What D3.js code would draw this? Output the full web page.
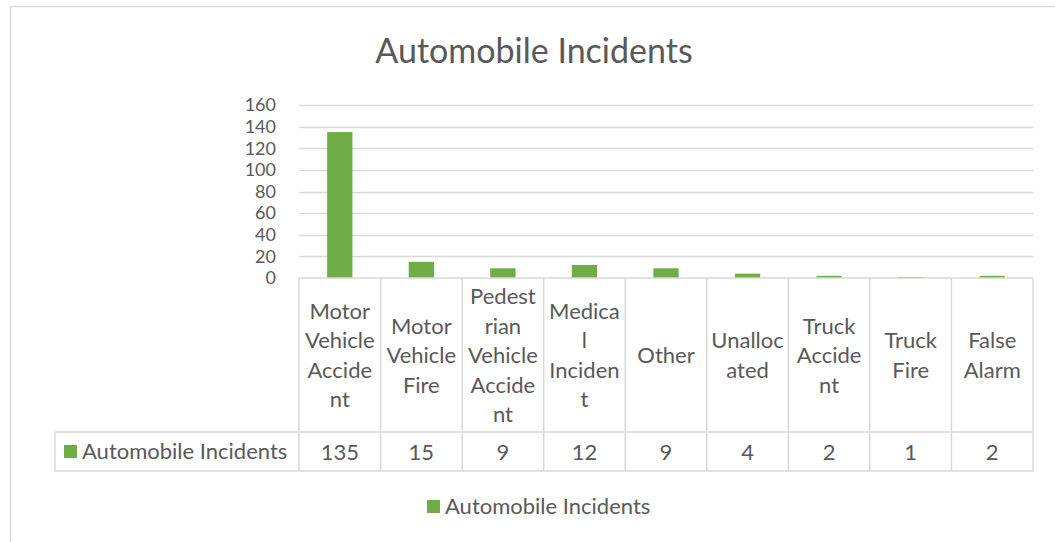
<!DOCTYPE html>
<html>
<head>
<meta charset="utf-8">
<script src="https://cdn.jsdelivr.net/npm/d3@7"></script>
<style>
  body { margin: 0; background: #fff; }
  svg { display: block; }
  text { font-family: Lato, "Open Sans", sans-serif; fill: #595959; }
</style>
</head>
<body>
<svg width="1055" height="542"></svg>
<script>
// chart data
var seriesName = "Automobile Incidents";
var categories = ["Motor Vehicle Accident", "Motor Vehicle Fire", "Pedestrian Vehicle Accident",
  "Medical Incident", "Other", "Unallocated", "Truck Accident", "Truck Fire", "False Alarm"];
// how Excel wrapped the names in the table cells
var categoryLines = [
  ["Motor", "Vehicle", "Accide", "nt"],
  ["Motor", "Vehicle", "Fire"],
  ["Pedest", "rian", "Vehicle", "Accide", "nt"],
  ["Medica", "l", "Inciden", "t"],
  ["Other"],
  ["Unalloc", "ated"],
  ["Truck", "Accide", "nt"],
  ["Truck", "Fire"],
  ["False", "Alarm"]
];
var values = [135, 15, 9, 12, 9, 4, 2, 1, 2];
var yTicks = [0, 20, 40, 60, 80, 100, 120, 140, 160];

var svg = d3.select("svg");
var grey = "#d9d9d9", green = "#70ad47";
var fs = "22px";

// outer chart border (runs off the right and bottom)
svg.append("rect")
    .attr("x", 10.5).attr("y", 6.5)
    .attr("width", 1100).attr("height", 600)
    .attr("fill", "none").attr("stroke", grey).attr("stroke-width", 1.5);

svg.append("text")
    .attr("x", 534).attr("y", 63)
    .attr("text-anchor", "middle")
    .style("font-size", "34px")
    .text(seriesName);

var x = d3.scaleBand().domain(categories).range([299, 1033]).padding(0);
var y = d3.scaleLinear().domain([0, 160]).range([278, 105]);

// gridlines
svg.append("g").selectAll("line")
    .data(yTicks.filter(function(d) { return d > 0; }))
    .enter().append("line")
    .attr("x1", 299).attr("x2", 1033)
    .attr("y1", function(d) { return Math.round(y(d)) + 0.5; })
    .attr("y2", function(d) { return Math.round(y(d)) + 0.5; })
    .attr("stroke", grey).attr("stroke-width", 1.5);

// y axis labels
var yAxis = svg.append("g")
    .attr("transform", "translate(299,0)")
    .call(d3.axisLeft(y).tickValues(yTicks).tickSize(0).tickPadding(23));
yAxis.select(".domain").remove();
yAxis.selectAll("text")
    .style("font-size", "18px")
    .style("font-family", "Lato, sans-serif")
    .attr("fill", "#595959");

// bars
var barW = x.bandwidth() * 0.31;
svg.append("g").selectAll("rect")
    .data(values)
    .enter().append("rect")
    .attr("x", function(d, i) { return x(categories[i]) + x.bandwidth() / 2 - barW / 2; })
    .attr("width", barW)
    .attr("y", function(d) { return y(d); })
    .attr("height", function(d) { return y(0) - y(d); })
    .attr("fill", green);

// data table
var rowTop = 278, rowMid = 432, rowBot = 471, tableLeft = 55;
var table = svg.append("g").attr("stroke", grey).attr("stroke-width", 1.5);
table.append("line").attr("x1", 299).attr("x2", 1033).attr("y1", rowTop).attr("y2", rowTop);
table.append("line").attr("x1", tableLeft).attr("x2", 1033).attr("y1", rowMid).attr("y2", rowMid);
table.append("line").attr("x1", tableLeft).attr("x2", 1033).attr("y1", rowBot).attr("y2", rowBot);
table.append("line").attr("x1", tableLeft).attr("x2", tableLeft).attr("y1", rowMid).attr("y2", rowBot);
table.selectAll(".col")
    .data(categories.concat(["end"]))
    .enter().append("line")
    .attr("x1", function(d, i) { return 299 + i * x.bandwidth(); })
    .attr("x2", function(d, i) { return 299 + i * x.bandwidth(); })
    .attr("y1", rowTop).attr("y2", rowBot);

var lineH = 29.5, midY = (rowTop + rowMid) / 2;
var cat = svg.append("g").selectAll("text")
    .data(categoryLines)
    .enter().append("text")
    .attr("text-anchor", "middle")
    .style("font-size", fs);
cat.selectAll("tspan")
    .data(function(d, i) { return d.map(function(s, j) { return {s: s, j: j, n: d.length, i: i}; }); })
    .enter().append("tspan")
    .attr("x", function(d) { return x(categories[d.i]) + x.bandwidth() / 2; })
    .attr("y", function(d) { return midY + (d.j - (d.n - 1) / 2) * lineH + 8; })
    .text(function(d) { return d.s; });

svg.append("g").selectAll("text")
    .data(values)
    .enter().append("text")
    .attr("x", function(d, i) { return x(categories[i]) + x.bandwidth() / 2; })
    .attr("y", (rowMid + rowBot) / 2 + 8)
    .attr("text-anchor", "middle")
    .style("font-size", fs)
    .text(function(d) { return d; });

// legend key inside the table
svg.append("rect").attr("x", 64).attr("y", 445).attr("width", 13).attr("height", 13).attr("fill", green);
svg.append("text").attr("x", 82).attr("y", 459).style("font-size", fs).text(seriesName);

// bottom legend
svg.append("rect").attr("x", 427).attr("y", 500).attr("width", 13).attr("height", 13).attr("fill", green);
svg.append("text").attr("x", 445).attr("y", 514).style("font-size", fs).text(seriesName);
</script>
</body>
</html>
